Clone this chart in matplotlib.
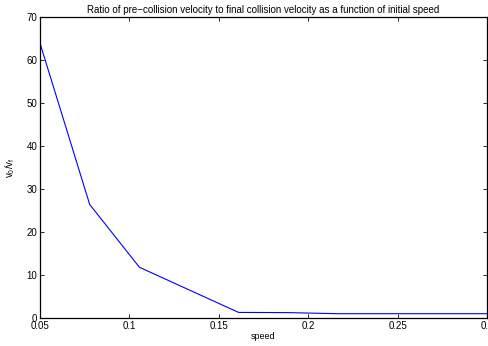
from matplotlib import pyplot as plt

speed = [0.05, 0.0778, 0.1056, 0.1333, 0.1611, 0.1889, 0.2167, 0.2444, 0.2722, 0.3]
ratio = [63.9, 26.4, 11.8, 6.55, 1.3, 1.25, 1.0, 1.0, 1.0, 1.0]

xticks = [0.05, 0.1, 0.15, 0.2, 0.25, 0.3]
xticklabels = ['0.05', '0.1', '0.15', '0.2', '0.25', '0.3']
yticks = [0, 10, 20, 30, 40, 50, 60, 70]

plt.rcParams['font.family'] = ['Liberation Sans', 'DejaVu Sans']
plt.rcParams['mathtext.default'] = 'regular'
plt.rcParams['font.size'] = 7


def main():
    fig = plt.figure(figsize=(4.89, 3.46), dpi=100)
    ax = fig.add_axes([40 / 489, 28 / 346, 447 / 489, 301 / 346])

    ax.plot(speed, ratio, color=(0, 0, 1), linewidth=0.8)

    ax.set_xlim(0.05, 0.3)
    ax.set_ylim(0, 70)
    ax.set_xticks(xticks)
    ax.set_xticklabels(xticklabels)
    ax.set_yticks(yticks)
    ax.tick_params(direction='in', length=3, width=0.6, top=True, right=True,
                   pad=2, labelsize=7)
    for spine in ax.spines.values():
        spine.set_linewidth(0.9)

    ax.set_title('Ratio of pre\u2212collision velocity to final collision velocity '
                 'as a function of initial speed', fontsize=7, pad=3)
    ax.set_xlabel('speed', fontsize=6.5, labelpad=1)
    ax.set_ylabel('v$_0$/v$_f$', fontsize=7, labelpad=7)

    fig.savefig('out.png', dpi=100)


if __name__ == '__main__':
    main()
